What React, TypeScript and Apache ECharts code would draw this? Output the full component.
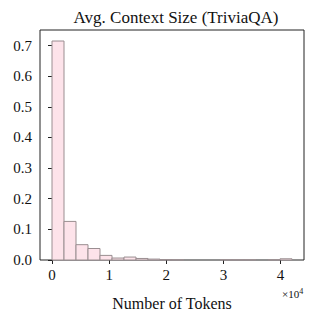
import React, { useEffect, useRef } from "react";
import * as echarts from "echarts";

const binWidth = 2100;
const binStarts = [0, 2100, 4200, 6300, 8400, 10500, 12600, 14700, 16800, 18900, 21000, 23100, 25200, 27300, 29400, 31500, 33600, 35700, 37800, 39900];
const proportions = [0.715, 0.126, 0.05, 0.0375, 0.015, 0.0064, 0.0096, 0.005, 0.003, 0.0015, 0.0008, 0, 0, 0, 0.0008, 0.0008, 0.0008, 0, 0.0008, 0.004];
const xTicks = [0, 10000, 20000, 30000, 40000];
const yTicks = [0, 0.1, 0.2, 0.3, 0.4, 0.5, 0.6, 0.7];

const FONT = "'Liberation Serif', 'DejaVu Serif', serif";

export default function App() {
  const ref = useRef<HTMLDivElement>(null);
  useEffect(() => {
    const chart = echarts.init(ref.current!, null, { renderer: "svg" });
    const data = binStarts.map((s, i) => [s, s + binWidth, proportions[i]]).filter((d) => d[2] > 0);
    chart.setOption({
      animation: false,
      backgroundColor: "#fff",
      title: {
        text: "Avg. Context Size (TriviaQA)",
        left: 171,
        textAlign: "center",
        top: 4,
        textStyle: { fontFamily: FONT, fontSize: 17, fontWeight: "normal", color: "#111" },
      },
      grid: { left: 40, right: 12, top: 30, bottom: 52, show: true, borderColor: "#222", borderWidth: 1, backgroundColor: "transparent" },
      xAxis: {
        type: "value",
        min: -2100,
        max: 44100,
        splitLine: { show: false },
        axisLine: { show: false },
        axisTick: { show: true, customValues: xTicks, length: 4, inside: false, lineStyle: { color: "#222" } },
        axisLabel: {
          customValues: xTicks,
          formatter: (v: number) => String(v / 10000),
          fontFamily: FONT,
          fontSize: 15,
          color: "#111",
          margin: 7,
        },
        name: "Number of Tokens",
        nameLocation: "middle",
        nameGap: 35,
        nameTextStyle: { fontFamily: FONT, fontSize: 16, color: "#111" },
      },
      yAxis: {
        type: "value",
        min: 0,
        max: 0.751,
        splitLine: { show: false },
        axisLine: { show: false },
        axisTick: { show: true, customValues: yTicks, length: 4, lineStyle: { color: "#222" } },
        axisLabel: {
          customValues: yTicks,
          formatter: (v: number) => v.toFixed(1),
          fontFamily: FONT,
          fontSize: 15,
          color: "#111",
          margin: 8,
        },
      },
      graphic: [
        {
          type: "text",
          left: 282,
          top: 287,
          style: {
            text: "×10{s|4}",
            rich: { s: { fontSize: 8, verticalAlign: "top", padding: [0, 0, 5, 0], fontFamily: FONT, fill: "#111" } },
            fontFamily: FONT,
            fontSize: 11,
            fill: "#111",
          },
        },
      ],
      series: [
        {
          type: "custom",
          data,
          encode: { x: [0, 1], y: 2 },
          renderItem: (params: any, api: any) => {
            const p0 = api.coord([api.value(0), api.value(2)]);
            const p1 = api.coord([api.value(1), 0]);
            return {
              type: "rect",
              shape: { x: p0[0], y: p0[1], width: p1[0] - p0[0], height: p1[1] - p0[1] },
              style: { fill: "#fde3ea", stroke: "#9a8e91", lineWidth: 1 },
            };
          },
        },
      ],
    });
    return () => chart.dispose();
  }, []);
  return <div ref={ref} style={{ position: "absolute", left: 0, top: 0, width: 316, height: 316 }} />;
}
